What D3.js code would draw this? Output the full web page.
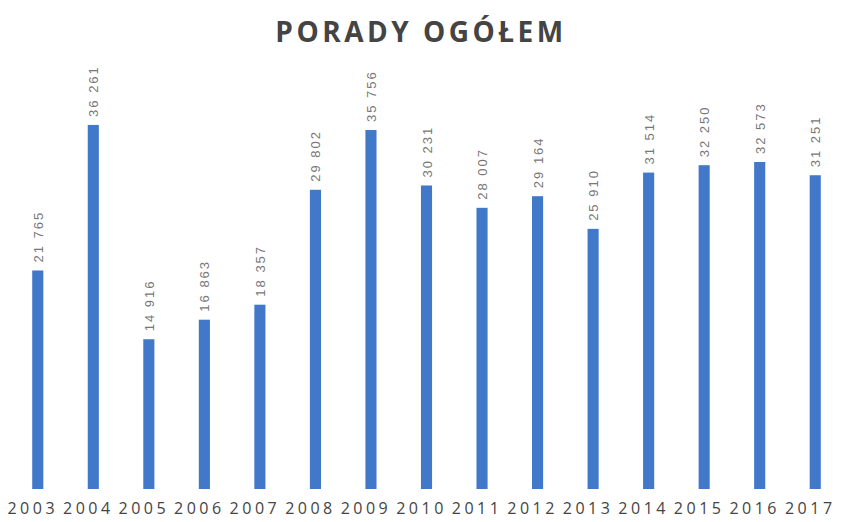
<!DOCTYPE html>
<html><head><meta charset="utf-8">
<script src="https://cdn.jsdelivr.net/npm/d3@7"></script>
<style>body{margin:0;background:#fff;} svg{display:block;}</style>
</head><body>
<script>
const years = ["2003","2004","2005","2006","2007","2008","2009","2010","2011","2012","2013","2014","2015","2016","2017"];
const values = [21765,36261,14916,16863,18357,29802,35756,30231,28007,29164,25910,31514,32250,32573,31251];
const title = "PORADY OGÓŁEM";

const W = 841, H = 522;
const svg = d3.select("body").append("svg").attr("width", W).attr("height", H);
const x = d3.scaleBand().domain(years).range([10, 843]).paddingInner(0.8).paddingOuter(0.4);
const y = d3.scaleLinear().domain([0, 40000]).range([489, 87.4]);
const fmt = v => d3.format(",")(v).replace(",", " ");

svg.append("text").attr("x", 421).attr("y", 42).attr("text-anchor", "middle")
  .attr("font-family", "Open Sans").attr("font-weight", "bold").attr("font-size", 28)
  .attr("letter-spacing", 3.5).attr("fill", "#444").text(title);

svg.selectAll("rect.bar").data(values).join("rect").attr("class", "bar")
  .attr("x", (d, i) => x(years[i])).attr("width", x.bandwidth())
  .attr("y", d => y(d)).attr("height", d => y(0) - y(d)).attr("fill", "#4178c9");

svg.selectAll("text.val").data(values).join("text").attr("class", "val")
  .attr("transform", (d, i) => `translate(${x(years[i]) + x.bandwidth()/2 + 5},${y(d) - 8}) rotate(-90)`)
  .attr("font-family", "Liberation Sans").attr("font-size", 13).attr("letter-spacing", 2)
  .attr("fill", "#777").text(d => fmt(d));

const ax = svg.append("g").attr("transform", "translate(-5,489)")
  .call(d3.axisBottom(x).tickSize(0).tickPadding(14));
ax.select(".domain").remove();
ax.selectAll("text").attr("font-family", "Open Sans").attr("font-size", 16)
  .attr("letter-spacing", 3.5).attr("fill", "#444");
</script>
</body></html>
